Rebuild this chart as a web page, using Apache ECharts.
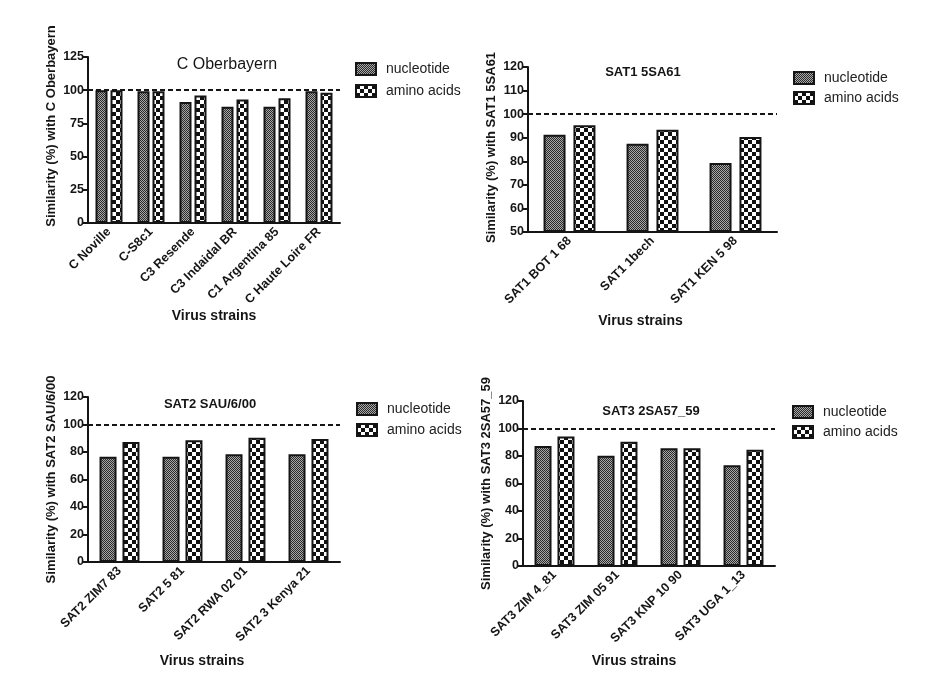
<!DOCTYPE html>
<html><head><meta charset="utf-8">
<script src="https://cdn.jsdelivr.net/npm/echarts@6/dist/echarts.min.js"></script>
<style>html,body{margin:0;padding:0;background:#fff}#c{width:940px;height:688px}</style>
</head><body><div id="c"></div>
<script>
// ---- data ----
const seriesNames = ['nucleotide', 'amino acids'];

const cTitle = 'C Oberbayern';
const cCategories = ['C Noville', 'C-S8c1', 'C3 Resende', 'C3 Indaidal BR', 'C1 Argentina 85', 'C Haute Loire FR'];
const cNucleotide = [100, 99.2, 91.2, 87.5, 87.5, 99.2];
const cAmino = [100, 99.2, 96, 93, 94, 98];

const sat1Title = 'SAT1 5SA61';
const sat1Categories = ['SAT1 BOT 1 68', 'SAT1 1bech', 'SAT1 KEN 5 98'];
const sat1Nucleotide = [91.3, 87.4, 79.3];
const sat1Amino = [95.3, 93.4, 90.3];

const sat2Title = 'SAT2 SAU/6/00';
const sat2Categories = ['SAT2 ZIM7 83', 'SAT2 5 81', 'SAT2 RWA 02 01', 'SAT2 3 Kenya 21'];
const sat2Nucleotide = [76.5, 76.5, 78.3, 78.3];
const sat2Amino = [87.3, 88.5, 90.4, 89.5];

const sat3Title = 'SAT3 2SA57_59';
const sat3Categories = ['SAT3 ZIM 4_81', 'SAT3 ZIM 05 91', 'SAT3 KNP 10 90', 'SAT3 UGA 1_13'];
const sat3Nucleotide = [87.3, 80.2, 85.6, 73.2];
const sat3Amino = [94.1, 90.4, 85.6, 84.6];

const referenceLevel = 100;
const xAxisTitle = 'Virus strains';
const yAxisPrefix = 'Similarity (%) with ';

// ---- patterns ----
function nucleotidePattern() {
  const cv = document.createElement('canvas'); cv.width = 2; cv.height = 2;
  const g = cv.getContext('2d');
  g.fillStyle = '#a8a8a8'; g.fillRect(0, 0, 2, 2);
  g.fillStyle = '#2a2a2a'; g.fillRect(0, 0, 1, 1); g.fillRect(1, 1, 1, 1);
  return { image: cv, repeat: 'repeat' };
}
function aminoPattern() {
  const cv = document.createElement('canvas'); cv.width = 8; cv.height = 8;
  const g = cv.getContext('2d');
  g.fillStyle = '#ffffff'; g.fillRect(0, 0, 8, 8);
  g.fillStyle = '#111111'; g.fillRect(0, 0, 4, 4); g.fillRect(4, 4, 4, 4);
  return { image: cv, repeat: 'repeat' };
}
const fills = [nucleotidePattern(), aminoPattern()];

const FONT = '"Liberation Sans", Arial, Helvetica, sans-serif';
const INK = '#151515';

const panels = [
  { title: cTitle, cats: cCategories, vals: [cNucleotide, cAmino], min: 0, max: 125, step: 25,
    grid: { left: 88, top: 57, width: 252, height: 166 }, barW: 12, barGap: '25%',
    titlePos: [227, 57], titleBold: false, titleSize: 16,
    legendPos: [355, 62, 8], xNameGap: 66, xNameShift: 0, yNameShift: 28 },
  { title: sat1Title, cats: sat1Categories, vals: [sat1Nucleotide, sat1Amino], min: 50, max: 120, step: 10,
    grid: { left: 528, top: 67, width: 249, height: 165 }, barW: 22, barGap: '36%',
    titlePos: [643, 66], titleBold: true, titleSize: 13,
    legendPos: [793, 71, 6], xNameGap: 82, xNameShift: 24, yNameShift: 4 },
  { title: sat2Title, cats: sat2Categories, vals: [sat2Nucleotide, sat2Amino], min: 0, max: 120, step: 20,
    grid: { left: 88, top: 397, width: 252, height: 165 }, barW: 17, barGap: '35%',
    titlePos: [210, 398], titleBold: true, titleSize: 13,
    legendPos: [356, 402, 7], xNameGap: 92, xNameShift: 24, yNameShift: 0 },
  { title: sat3Title, cats: sat3Categories, vals: [sat3Nucleotide, sat3Amino], min: 0, max: 120, step: 20,
    grid: { left: 523, top: 401, width: 252, height: 165 }, barW: 17, barGap: '35%',
    titlePos: [651, 405], titleBold: true, titleSize: 13,
    legendPos: [792, 405, 6], xNameGap: 88, xNameShift: 30, yNameShift: 0 }
];

const option = { backgroundColor: '#ffffff', animation: false, textStyle: { fontFamily: FONT },
  title: [], grid: [], xAxis: [], yAxis: [], legend: [], series: [] };

panels.forEach((p, i) => {
  option.title.push({ text: p.title, left: p.titlePos[0], top: p.titlePos[1], textAlign: 'center', padding: 0,
    textStyle: { fontFamily: FONT, fontSize: p.titleSize, fontWeight: p.titleBold ? 'bold' : 'normal', color: INK } });
  option.grid.push(Object.assign({ containLabel: false }, p.grid));
  option.xAxis.push({ type: 'category', gridIndex: i, data: p.cats,
    axisLine: { lineStyle: { color: INK, width: 2 } },
    axisTick: { alignWithLabel: true, length: 4, lineStyle: { color: INK, width: 2 } },
    axisLabel: { interval: 0, rotate: 45, margin: 7, fontFamily: FONT, fontWeight: 'bold', fontSize: 12.5, color: INK },
    name: xAxisTitle, nameLocation: 'middle', nameGap: p.xNameGap,
    nameTextStyle: { fontFamily: FONT, fontWeight: 'bold', fontSize: 14, color: INK, padding: [0, p.xNameShift, 0, 0] } });
  option.yAxis.push({ type: 'value', gridIndex: i, min: p.min, max: p.max, interval: p.step, startValue: p.min,
    axisLine: { show: true, lineStyle: { color: INK, width: 2 } },
    axisTick: { show: true, length: 5, lineStyle: { color: INK, width: 2 } },
    splitLine: { show: false },
    axisLabel: { margin: 4, fontFamily: FONT, fontWeight: 'bold', fontSize: 12.5, color: INK },
    name: yAxisPrefix + p.title, nameLocation: 'middle', nameGap: 30,
    nameTextStyle: { fontFamily: FONT, fontWeight: 'bold', fontSize: 13, color: INK, padding: [0, 0, 0, p.yNameShift] } });
  option.legend.push({ data: seriesNames.map(n => ({ name: n, icon: 'rect' })), orient: 'vertical',
    left: p.legendPos[0], top: p.legendPos[1],
    itemWidth: 20, itemHeight: 12, itemGap: p.legendPos[2], padding: 0,
    itemStyle: { borderColor: INK, borderWidth: 2 },
    textStyle: { fontFamily: FONT, fontSize: 14, color: '#222', padding: [0, 0, 0, 5] } });
  seriesNames.forEach((name, k) => {
    const s = { type: 'bar', name: name, xAxisIndex: i, yAxisIndex: i, data: p.vals[k],
      barWidth: p.barW, barGap: p.barGap,
      itemStyle: { color: fills[k], borderColor: INK, borderWidth: 2 } };
    if (k === 1) {
      s.markLine = { silent: true, symbol: ['none', 'none'], label: { show: false },
        lineStyle: { color: INK, width: 2, type: [5, 3] }, data: [{ yAxis: referenceLevel }] };
    }
    option.series.push(s);
  });
});

const chart = echarts.init(document.getElementById('c'), null, { renderer: 'canvas' });
chart.setOption(option);
</script>
</body></html>
